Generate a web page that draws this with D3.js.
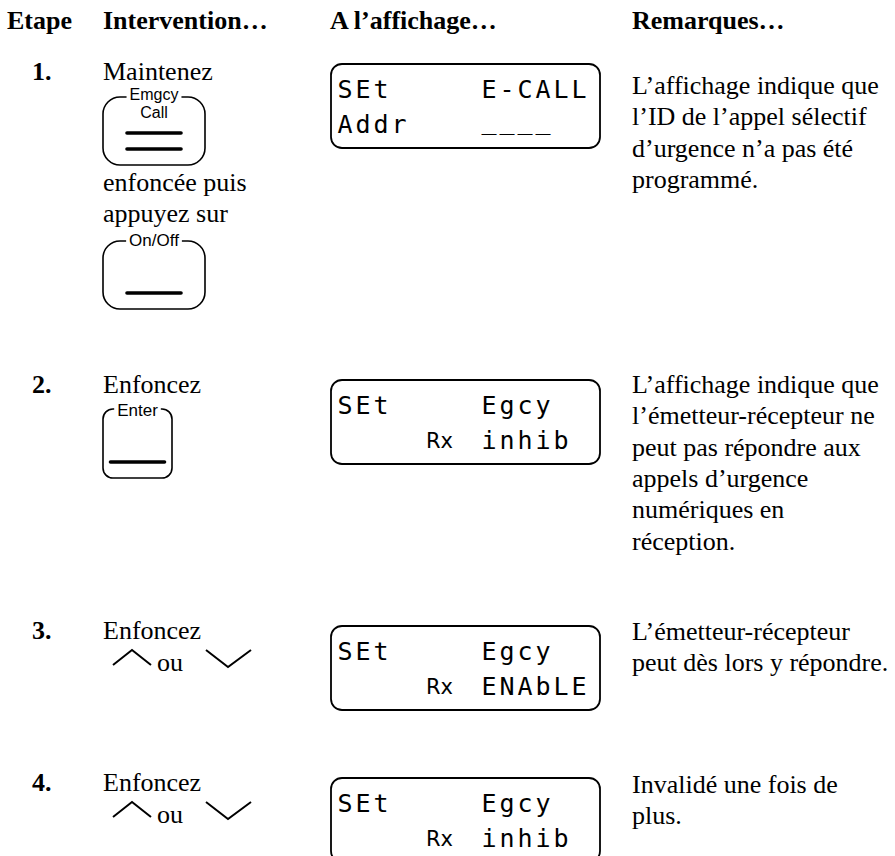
<!DOCTYPE html>
<html><head><meta charset="utf-8">
<script src="https://cdn.jsdelivr.net/npm/d3@7"></script>
<style>html,body{margin:0;padding:0;background:#fff;} svg{display:block}</style>
</head><body>
<svg id="c" width="895" height="856"></svg>
<script>
// ---------- content ----------
const headers = ["Etape", "Intervention…", "A l’affichage…", "Remarques…"];
const stepLabels = ["1.", "2.", "3.", "4."];
// action items per step: text lines, keys (index into key arrays), arrow pairs
const stepActions = [
  [["text", "Maintenez"], ["key", 0], ["text", "enfoncée puis"], ["text", "appuyez sur"], ["key", 1]],
  [["text", "Enfoncez"], ["key", 2]],
  [["text", "Enfoncez"], ["arrows", "ou"]],
  [["text", "Enfoncez"], ["arrows", "ou"]]
];
const keyLabels = ["Emgcy", "On/Off", "Enter"];
const keyInner  = ["Call", "", ""];
const keyBars   = [2, 1, 1];
const displays = [
  ["SEt     E-CALL", "Addr    ____"],
  ["SEt     Egcy",   "     Rx inhib"],
  ["SEt     Egcy",   "     Rx ENAbLE"],
  ["SEt     Egcy",   "     Rx inhib"]
];
const legendToken = "Rx";
const remarks = [
  ["L’affichage indique que", "l’ID de l’appel sélectif", "d’urgence n’a pas été", "programmé."],
  ["L’affichage indique que", "l’émetteur-récepteur ne", "peut pas répondre aux", "appels d’urgence", "numériques en", "réception."],
  ["L’émetteur-récepteur", "peut dès lors y répondre."],
  ["Invalidé une fois de", "plus."]
];

// ---------- layout ----------
const SERIF = "'Liberation Serif','Times New Roman',serif";
const SANS = "'Liberation Sans',Arial,sans-serif";
const MONO = "'DejaVu Sans Mono',monospace";
const svg = d3.select("#c");

const colX = d3.scaleOrdinal().domain(d3.range(4)).range([7, 103, 330, 632]);
const stepY = d3.scaleOrdinal().domain(d3.range(4)).range([80, 393, 639, 791]);
const remarkShift = [14, 0, 1, 2];
const lineGap = 31.3;
const keyGeom = [
  {w: 102, h: 68, r: 17, gap: 17, ldy: 3, fs: 16},
  {w: 102, h: 68, r: 17, gap: 19, ldy: 5, fs: 17},
  {w: 69, h: 69, r: 10, gap: 16, ldy: 7, fs: 17}
];
const lcdCol = d3.scaleLinear().domain([0, 13]).range([345, 579]); // char centres
const disp = {x: 331, w: 269, h: 84, r: 11};

// headers
svg.append("g").selectAll("text").data(headers).join("text")
  .attr("x", (d, i) => colX(i)).attr("y", 29)
  .attr("font-family", SERIF).attr("font-weight", "bold").attr("font-size", 26)
  .attr("fill", "#000").text(d => d);

// step numbers
svg.append("g").selectAll("text").data(stepLabels).join("text")
  .attr("x", 32).attr("y", (d, i) => stepY(i))
  .attr("font-family", SERIF).attr("font-weight", "bold").attr("font-size", 26)
  .attr("fill", "#000").text(d => d);

// key drawing
function drawKey(parent, k, x, top) {
  const g = parent.append("g");
  const {w, h, r, ldy, fs} = keyGeom[k];
  const lbl = g.append("text").attr("x", x + w / 2).attr("y", top + ldy)
    .attr("text-anchor", "middle").attr("font-family", SANS).attr("font-size", fs)
    .attr("fill", "#000").text(keyLabels[k]);
  const tw = lbl.node().getComputedTextLength();
  const gl = x + w / 2 - tw / 2 - 3, gr = x + w / 2 + tw / 2 + 3;
  const p = d3.path();
  p.moveTo(gl, top);
  p.lineTo(x + r, top);
  p.arcTo(x, top, x, top + r, r);
  p.lineTo(x, top + h - r);
  p.arcTo(x, top + h, x + r, top + h, r);
  p.lineTo(x + w - r, top + h);
  p.arcTo(x + w, top + h, x + w, top + h - r, r);
  p.lineTo(x + w, top + r);
  p.arcTo(x + w, top, x + w - r, top, r);
  p.lineTo(gr, top);
  g.append("path").attr("d", p.toString()).attr("fill", "none")
    .attr("stroke", "#000").attr("stroke-width", 1.6);
  if (keyInner[k]) {
    g.append("text").attr("x", x + w / 2).attr("y", top + 21)
      .attr("text-anchor", "middle").attr("font-family", SANS).attr("font-size", fs)
      .attr("fill", "#000").text(keyInner[k]);
  }
  const m = (w - 54) / 2;
  const bars = d3.range(keyBars[k]).map(i => top + h - 16 - i * 16);
  g.selectAll("line.bar").data(bars).join("line").attr("class", "bar")
    .attr("x1", x + m).attr("x2", x + w - m)
    .attr("y1", d => d).attr("y2", d => d)
    .attr("stroke", "#000").attr("stroke-width", 3.6).attr("stroke-linecap", "round");
}

const chevron = d3.line();
stepActions.forEach((items, s) => {
  const g = svg.append("g");
  let y = stepY(s);
  let prev = null;
  items.forEach((it) => {
    if (it[0] === "text") {
      if (prev === "key") y = y + 26; else if (prev === "text") y = y + 31;
      g.append("text").attr("x", colX(1)).attr("y", y)
        .attr("font-family", SERIF).attr("font-size", 26).attr("fill", "#000").text(it[1]);
    } else if (it[0] === "key") {
      const top = y + keyGeom[it[1]].gap;
      drawKey(g, it[1], colX(1), top);
      y = top + keyGeom[it[1]].h;
    } else if (it[0] === "arrows") {
      const up = [[0, 15], [19, 0], [38, 15]].map(([a, b]) => [113 + a, y + 11 + b]);
      const dn = [[0, 0], [22, 17], [45, 0]].map(([a, b]) => [206 + a, y + 11 + b]);
      [up, dn].forEach(pts => g.append("path").attr("d", chevron(pts))
        .attr("fill", "none").attr("stroke", "#000").attr("stroke-width", 2));
      g.append("text").attr("x", 157).attr("y", y + 32)
        .attr("font-family", SERIF).attr("font-size", 26).attr("fill", "#000").text(it[1]);
    }
    prev = it[0];
  });
});

// displays
displays.forEach((rows, s) => {
  const top = stepY(s) - 16 + (s === 0 ? 0 : 3);
  const g = svg.append("g");
  g.append("rect").attr("x", disp.x).attr("y", top).attr("width", disp.w).attr("height", disp.h)
    .attr("rx", disp.r).attr("fill", "none").attr("stroke", "#000").attr("stroke-width", 1.8);
  rows.forEach((line, ri) => {
    const base = top + (ri === 0 ? 34 : 69);
    const re = /\S+/g; let mt;
    while ((mt = re.exec(line)) !== null) {
      const tok = mt[0], c0 = mt.index;
      if (tok === legendToken) {
        g.append("text").attr("x", lcdCol(c0) - 9).attr("y", base - 1)
          .attr("font-family", "'DejaVu Sans',sans-serif").attr("font-size", 21)
          .attr("fill", "#000").text(tok);
      } else {
        g.append("g").selectAll("text").data(tok.split("")).join("text")
          .attr("x", (d, i) => lcdCol(c0 + i)).attr("y", d => d === "_" ? base - 4 : base)
          .attr("text-anchor", "middle").attr("font-family", MONO).attr("font-size", 25)
          .attr("fill", "#000").text(d => d);
      }
    }
  });
});

// remarks
remarks.forEach((lines, s) => {
  svg.append("g").selectAll("text").data(lines).join("text")
    .attr("x", colX(3)).attr("y", (d, i) => stepY(s) + remarkShift[s] + i * lineGap)
    .attr("font-family", SERIF).attr("font-size", 26).attr("fill", "#000").text(d => d);
});
</script>
</body></html>
